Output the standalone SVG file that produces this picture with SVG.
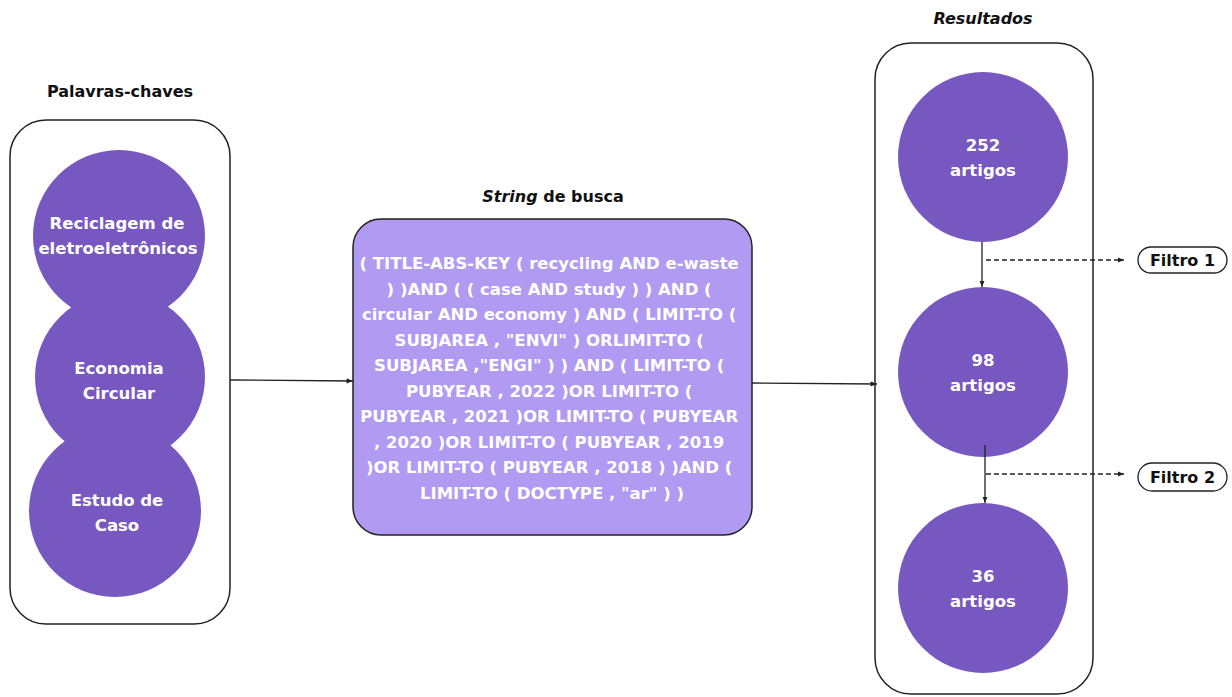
<svg xmlns="http://www.w3.org/2000/svg" width="1232" height="697" viewBox="0 0 1232 697">
<style>
.frame{fill:#fff;stroke:#222;stroke-width:1.5}
.dot{fill:#7757c0}
.wt{font-family:"DejaVu Sans","Liberation Sans",sans-serif;font-weight:700;fill:#fff;text-anchor:middle}
.bt{font-family:"DejaVu Sans","Liberation Sans",sans-serif;font-weight:700;fill:#111;text-anchor:middle}
.line{stroke:#222;stroke-width:1.3;fill:none}
.dash{stroke:#222;stroke-width:1.3;fill:none;stroke-dasharray:5 3}
.pill{fill:#fff;stroke:#222;stroke-width:1.3}
</style>
<defs>
<marker id="ah" viewBox="0 0 10 10" refX="10" refY="5" markerWidth="5" markerHeight="5" orient="auto"><path d="M0,1 L10,5 L0,9 z" fill="#222"/></marker>
</defs>
<rect width="1232" height="697" fill="#fff"/>

<g id="keywords">
<text class="bt" x="120" y="97" font-size="16">Palavras-chaves</text>
<rect class="frame" x="10" y="120" width="220" height="504" rx="36"/>
<circle class="dot" cx="119" cy="236" r="86"/>
<circle class="dot" cx="120" cy="377" r="85"/>
<circle class="dot" cx="115" cy="511" r="86"/>
<text class="wt" font-size="16.5"><tspan x="117" y="229">Reciclagem de</tspan><tspan x="118" y="254">eletroeletrônicos</tspan></text>
<text class="wt" font-size="16.5"><tspan x="119" y="374">Economia</tspan><tspan x="119" y="399">Circular</tspan></text>
<text class="wt" font-size="16.5"><tspan x="117" y="506">Estudo de</tspan><tspan x="117" y="531">Caso</tspan></text>
</g>

<g id="search">
<text class="bt" x="553" y="202" font-size="16"><tspan font-style="italic">String</tspan> de busca</text>
<rect x="353" y="219" width="399" height="316" rx="28" fill="#b19af1" stroke="#222" stroke-width="1.5"/>
<text class="wt" font-size="16.5">
<tspan x="552" y="269">( TITLE-ABS-KEY ( recycling AND e-waste</tspan>
<tspan x="552" y="294.5">) )AND ( ( case AND study ) ) AND (</tspan>
<tspan x="552" y="320">circular AND economy ) AND ( LIMIT-TO (</tspan>
<tspan x="552" y="345.5">SUBJAREA , "ENVI" ) ORLIMIT-TO (</tspan>
<tspan x="552" y="371">SUBJAREA ,"ENGI" ) ) AND ( LIMIT-TO (</tspan>
<tspan x="552" y="396.5">PUBYEAR , 2022 )OR LIMIT-TO (</tspan>
<tspan x="552" y="422">PUBYEAR , 2021 )OR LIMIT-TO ( PUBYEAR</tspan>
<tspan x="552" y="447.5">, 2020 )OR LIMIT-TO ( PUBYEAR , 2019</tspan>
<tspan x="552" y="473">)OR LIMIT-TO ( PUBYEAR , 2018 ) )AND (</tspan>
<tspan x="552" y="498.5">LIMIT-TO ( DOCTYPE , "ar" ) )</tspan>
</text>
</g>

<g id="results">
<text class="bt" x="983" y="24" font-size="16" font-style="italic">Resultados</text>
<rect class="frame" x="875" y="43" width="218" height="651" rx="36"/>
<circle class="dot" cx="983" cy="157" r="85"/>
<circle class="dot" cx="983" cy="372" r="85"/>
<circle class="dot" cx="983" cy="588" r="85"/>
<text class="wt" font-size="16.5"><tspan x="983" y="151">252</tspan><tspan x="983" y="176">artigos</tspan></text>
<text class="wt" font-size="16.5"><tspan x="983" y="366">98</tspan><tspan x="983" y="391">artigos</tspan></text>
<text class="wt" font-size="16.5"><tspan x="983" y="582">36</tspan><tspan x="983" y="607">artigos</tspan></text>
</g>

<g id="filtro1">
<rect class="pill" x="1138" y="247" width="89" height="26" rx="13"/>
<text class="bt" x="1182.5" y="266" font-size="16">Filtro 1</text>
</g>
<g id="filtro2">
<rect class="pill" x="1138" y="463" width="89" height="28" rx="14"/>
<text class="bt" x="1182.5" y="483" font-size="16">Filtro 2</text>
</g>

<g id="connectors">
<line class="line" x1="230" y1="380" x2="353" y2="381" marker-end="url(#ah)"/>
<line class="line" x1="752" y1="383" x2="877" y2="384" marker-end="url(#ah)"/>
<line class="line" x1="982" y1="242" x2="982" y2="287" marker-end="url(#ah)"/>
<line class="dash" x1="986" y1="260" x2="1124" y2="260" marker-end="url(#ah)"/>
<line class="line" x1="985" y1="445" x2="985" y2="503" marker-end="url(#ah)"/>
<line class="dash" x1="986" y1="474" x2="1124" y2="474" marker-end="url(#ah)"/>
</g>
</svg>
